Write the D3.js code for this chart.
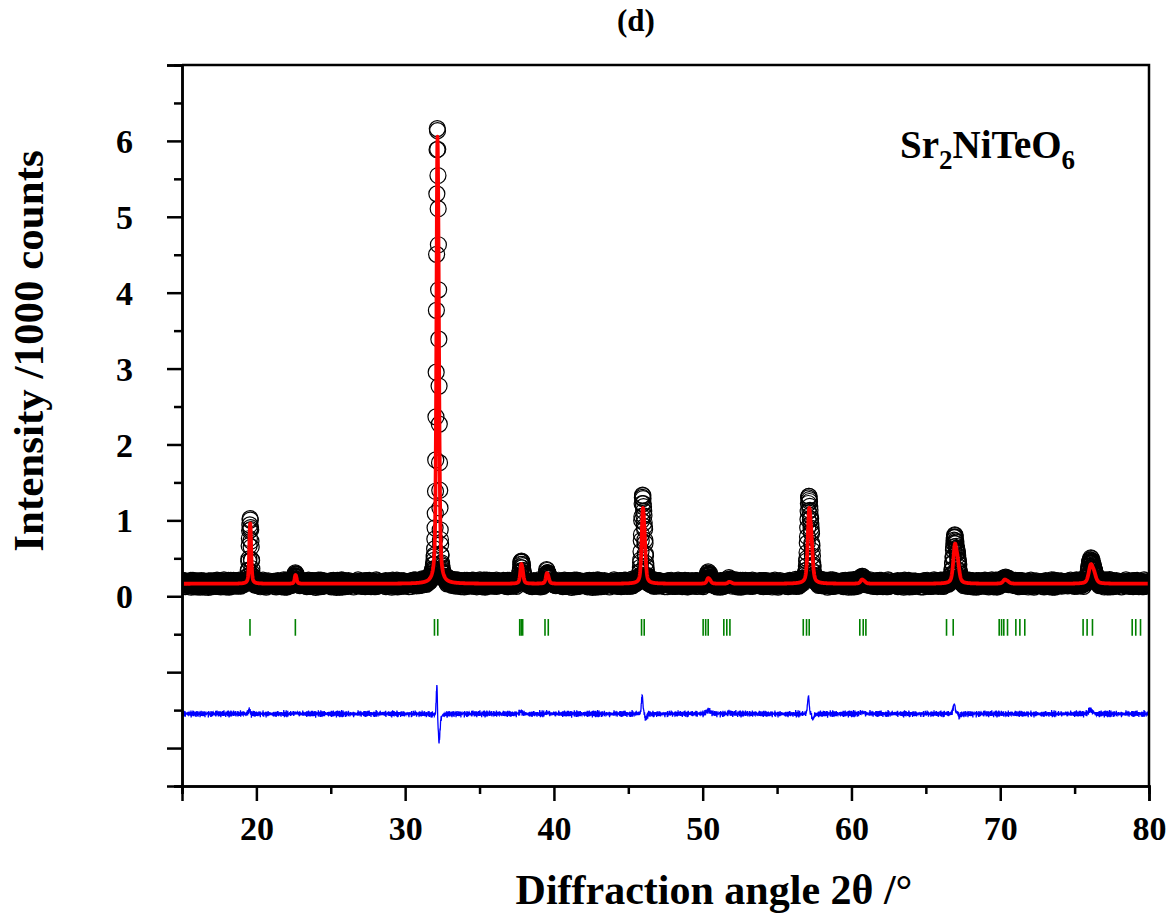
<!DOCTYPE html>
<html>
<head>
<meta charset="utf-8">
<script src="https://cdn.jsdelivr.net/npm/d3@7"></script>
<style>
  body { margin: 0; background: #fff; }
  svg { display: block; font-family: "Liberation Serif", "Times New Roman", serif; font-weight: bold; }
</style>
</head>
<body>
<svg id="chart" width="1175" height="914"></svg>
<script>
// Sr2NiTeO6 powder pattern, Rietveld refinement (intensities in 1000 counts)

// Reflection groups: 2θ position, fitted and measured peak maxima above background, widths
const peakPos   = [19.57, 22.62, 32.16, 37.80, 39.52, 45.97, 50.36, 51.78, 57.15, 60.70, 66.95, 70.30, 76.08];
const calcPeak  = [0.80, 0.115, 5.89, 0.26, 0.14, 1.00, 0.075, 0.025, 1.00, 0.055, 0.53, 0.055, 0.26];
const obsPeak   = [0.84, 0.125, 6.02, 0.29, 0.155, 1.17, 0.12, 0.035, 1.16, 0.075, 0.63, 0.05, 0.31];
const calcFwhm  = [0.13, 0.14, 0.15, 0.16, 0.17, 0.19, 0.20, 0.20, 0.22, 0.23, 0.26, 0.27, 0.32];
const obsFwhm   = [0.13, 0.15, 0.14, 0.16, 0.17, 0.165, 0.22, 0.20, 0.19, 0.24, 0.225, 0.27, 0.29];
const obsShift  = [-0.004, 0, -0.007, -0.004, 0, -0.016, 0, 0, -0.019, 0, -0.019, 0, -0.014];
const background = 0.165;

// Bragg reflection positions (2θ)
const braggPos = [19.57, 22.62, 31.97, 32.19, 37.70, 37.80, 37.90, 39.40, 39.62, 45.89, 46.07,
  50.03, 50.20, 50.37, 51.42, 51.62, 51.83, 56.76, 56.98, 57.16, 60.56, 60.79, 60.97,
  66.39, 66.84, 69.93, 70.09, 70.24, 70.49, 71.05, 71.32, 71.65, 75.57, 75.84, 76.20,
  78.87, 79.11, 79.43];

// Counting-noise residuals of the measured points
const residualA = [0.014, -0.021, 0.028, -0.007, 0.010, -0.024, 0.017, 0.003, -0.015, 0.022, -0.027,
  0.008, 0.012, -0.010, 0.025, -0.018, 0.004, -0.002, 0.019, -0.022, 0.009, -0.012, 0.026, -0.006,
  0.016, -0.025, 0.001, 0.020, -0.016, 0.007, -0.009];
const residualB = [-0.011, 0.016, -0.004, 0.021, -0.019, 0.007, 0.012, -0.022, 0.003, 0.018, -0.008,
  -0.015, 0.024, -0.001, 0.010, -0.020, 0.013, 0.006, -0.017, 0.022, -0.009, 0.002, -0.013, 0.019,
  -0.003, 0.015, -0.021, 0.008, 0.011, -0.018, 0.020, -0.007, 0.004, -0.012, 0.017, -0.010, 0.001];

const xTickValues = [20, 30, 40, 50, 60, 70, 80];
const xMinorValues = [15, 25, 35, 45, 55, 65, 75];
const yTickValues = [-2, -1, 0, 1, 2, 3, 4, 5, 6, 7];
const yMinorValues = [-2.5, -1.5, -0.5, 0.5, 1.5, 2.5, 3.5, 4.5, 5.5, 6.5];
const yLabelled = [0, 1, 2, 3, 4, 5, 6];

const scanStart = 15, scanEnd = 80, scanStep = 0.015;
const diffOffset = -1.55;
const braggTop = -0.30, braggBottom = -0.52;

// ---- profile model (pseudo-Voigt, Kα1/Kα2 doublet) ----
function pv(t, x0, w) {
  const u = (t - x0) / w;
  return 0.5 / (1 + 4 * u * u) + 0.5 * Math.exp(-4 * Math.LN2 * u * u);
}
function doublet(t, x0, w) {
  const th = x0 / 2 * Math.PI / 180;
  const sep = 2 * Math.tan(th) * 0.00249 * 180 / Math.PI;
  return pv(t, x0, w) + 0.5 * pv(t, x0 + sep, w);
}
function peakMax(x0, w) {
  let m = 0;
  for (let t = x0 - 0.5; t <= x0 + 0.5; t += 0.0005) m = Math.max(m, doublet(t, x0, w));
  return m;
}
const calcNorm = peakPos.map((p, k) => peakMax(p, calcFwhm[k]));
const obsNorm = peakPos.map((p, k) => peakMax(p + obsShift[k], obsFwhm[k]));

const nPts = Math.round((scanEnd - scanStart) / scanStep);
const scan = d3.range(nPts + 1).map(i => {
  const t = scanStart + i * scanStep;
  let calc = background, obs = background;
  for (let k = 0; k < peakPos.length; k++) {
    calc += calcPeak[k] * doublet(t, peakPos[k], calcFwhm[k]) / calcNorm[k];
    obs += obsPeak[k] * doublet(t, peakPos[k] + obsShift[k], obsFwhm[k]) / obsNorm[k];
  }
  obs += residualA[i % residualA.length] + residualB[i % residualB.length];
  return { t, calc, obs, diff: obs - calc + diffOffset };
});

// ---- layout ----
const plot = { left: 182, right: 1149, top: 65, bottom: 786 };
const svg = d3.select("#chart");

const x = d3.scaleLinear().domain([scanStart, scanEnd]).range([plot.left, plot.right]);
const y = d3.scaleLinear().domain([-2.5, 7]).range([plot.bottom, plot.top]);

svg.append("defs").append("clipPath").attr("id", "plotClip")
  .append("rect")
  .attr("x", plot.left).attr("y", plot.top)
  .attr("width", plot.right - plot.left).attr("height", plot.bottom - plot.top);

const data = svg.append("g").attr("clip-path", "url(#plotClip)");

// measured points
data.append("g")
  .selectAll("circle")
  .data(scan)
  .join("circle")
  .attr("cx", d => x(d.t))
  .attr("cy", d => y(d.obs))
  .attr("r", 8)
  .attr("fill", "none")
  .attr("stroke", "#000")
  .attr("stroke-width", 1.2);

// calculated profile
data.append("path")
  .datum(scan)
  .attr("fill", "none")
  .attr("stroke", "#ff0000")
  .attr("stroke-width", 3.8)
  .attr("stroke-linejoin", "round")
  .attr("d", d3.line().x(d => x(d.t)).y(d => y(d.calc)));

// Bragg positions
data.append("g")
  .selectAll("line")
  .data(braggPos)
  .join("line")
  .attr("x1", d => x(d)).attr("x2", d => x(d))
  .attr("y1", y(braggTop)).attr("y2", y(braggBottom))
  .attr("stroke", "#008000")
  .attr("stroke-width", 1.6);

// difference curve
data.append("path")
  .datum(scan)
  .attr("fill", "none")
  .attr("stroke", "#0000ff")
  .attr("stroke-width", 1.3)
  .attr("d", d3.line().x(d => x(d.t)).y(d => y(d.diff)));

// ---- axes ----
const axisColor = "#000";
const xAxis = svg.append("g").attr("transform", `translate(0,${plot.bottom})`)
  .call(d3.axisBottom(x).tickValues(xTickValues).tickSize(15).tickPadding(15).tickFormat(d3.format("d")));
svg.append("g").attr("transform", `translate(0,${plot.bottom})`)
  .call(d3.axisBottom(x).tickValues(xMinorValues).tickSize(8).tickFormat(""));

const yAxis = svg.append("g").attr("transform", `translate(${plot.left},0)`)
  .call(d3.axisLeft(y).tickValues(yTickValues).tickSize(15).tickPadding(34)
    .tickFormat(d => yLabelled.includes(d) ? String(d) : ""));
svg.append("g").attr("transform", `translate(${plot.left},0)`)
  .call(d3.axisLeft(y).tickValues(yMinorValues).tickSize(8).tickFormat(""));

svg.selectAll(".domain").attr("stroke", axisColor).attr("stroke-width", 2.5);
svg.selectAll(".tick line").attr("stroke", axisColor).attr("stroke-width", 2.5);
svg.selectAll(".tick text")
  .attr("fill", "#000")
  .style("font-family", '"Liberation Serif", "Times New Roman", serif')
  .style("font-weight", "bold")
  .style("font-size", "34px");
xAxis.selectAll(".tick text").attr("dy", "0.71em");
yAxis.selectAll(".tick text").attr("dy", "0.34em");

// frame (top and right)
svg.append("path")
  .attr("d", `M${plot.left},${plot.top}H${plot.right}V${plot.bottom}`)
  .attr("fill", "none")
  .attr("stroke", axisColor)
  .attr("stroke-width", 2.5);

// ---- texts ----
svg.append("text")
  .attr("x", 636).attr("y", 31)
  .attr("text-anchor", "middle")
  .style("font-size", "31px")
  .text("(d)");

svg.append("text")
  .attr("x", 714).attr("y", 904)
  .attr("text-anchor", "middle")
  .style("font-size", "42px")
  .text("Diffraction angle 2θ /°");

svg.append("text")
  .attr("transform", "translate(43,351) rotate(-90)")
  .attr("text-anchor", "middle")
  .style("font-size", "43px")
  .text("Intensity /1000 counts");

const formula = svg.append("text")
  .attr("x", 900).attr("y", 158)
  .style("font-size", "39px");
formula.append("tspan").text("Sr");
formula.append("tspan").attr("dy", 11).style("font-size", "27px").text("2");
formula.append("tspan").attr("dy", -11).text("NiTeO");
formula.append("tspan").attr("dy", 11).style("font-size", "27px").text("6");
</script>
</body>
</html>
